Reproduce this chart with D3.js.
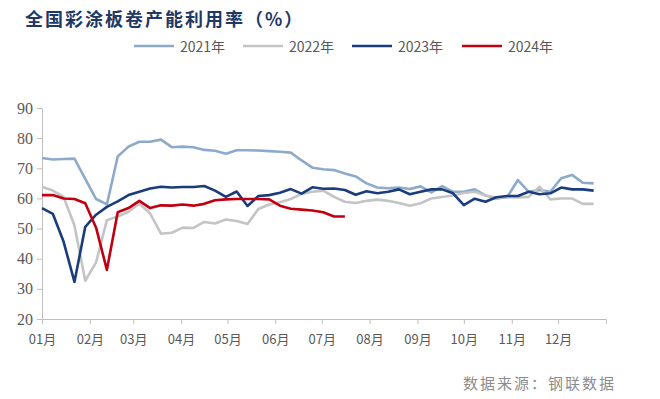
<!DOCTYPE html>
<html>
<head>
<meta charset="utf-8">
<script src="https://cdn.jsdelivr.net/npm/d3@7"></script>
<style>
  body { margin: 0; background: #fff; }
  svg { display: block; }
</style>
</head>
<body>
<div id="chart"></div>
<script>
// weekly readings, 52 points per year (2024 is partial)
const series = ["2021年", "2022年", "2023年", "2024年"];
const colors = ["#8eaacb", "#c4c4c4", "#1b3c7c", "#c00010"];

const v2021 = [73.4, 72.9, 73.1, 73.2, 66.5, 59.8, 58.0, 73.9, 77.2, 78.8, 78.8, 79.5, 77.0, 77.2, 77.0, 76.1, 75.8, 74.8, 76.0, 76.0,
  75.9, 75.7, 75.5, 75.2, 72.6, 70.2, 69.7, 69.4, 68.3, 67.3, 65.0, 63.6, 63.4, 63.6, 63.1, 64.0, 62.0, 64.1, 62.2, 62.2,
  63.0, 61.0, 60.0, 60.4, 66.1, 62.2, 62.8, 62.2, 66.7, 67.8, 65.2, 65.0];
const v2022 = [63.9, 62.6, 60.5, 51.0, 32.7, 38.8, 52.8, 54.0, 55.6, 58.3, 55.0, 48.3, 48.6, 50.3, 50.2, 52.2, 51.7, 53.0, 52.5, 51.5,
  56.5, 58.0, 58.7, 59.8, 61.5, 62.2, 62.6, 60.5, 58.9, 58.5, 59.2, 59.6, 59.2, 58.5, 57.6, 58.4, 60.0, 60.5, 61.0, 61.8,
  62.2, 61.0, 60.3, 60.4, 60.3, 60.5, 63.9, 59.7, 60.0, 60.0, 58.2, 58.2];
const v2023 = [56.8, 54.9, 45.6, 32.3, 50.6, 54.6, 57.2, 59.0, 61.1, 62.2, 63.3, 63.9, 63.6, 63.8, 63.8, 64.1, 62.6, 60.5, 62.3, 57.5,
  60.8, 61.1, 61.9, 63.1, 61.6, 63.7, 63.2, 63.3, 62.8, 61.2, 62.4, 61.7, 62.2, 63.0, 61.4, 62.2, 63.0, 63.0, 61.7, 57.8,
  59.9, 58.9, 60.4, 60.8, 60.8, 62.2, 61.4, 61.7, 63.6, 63.0, 63.0, 62.6];
const v2024 = [61.1, 61.1, 60.0, 59.8, 58.4, 50.3, 36.3, 55.4, 56.8, 59.2, 56.8, 57.7, 57.6, 58.0, 57.6, 58.2, 59.4, 59.7, 59.8, 59.8,
  59.8, 59.7, 57.6, 56.6, 56.3, 56.0, 55.4, 54.0, 54.0];
const values = [v2021, v2022, v2023, v2024];

const monthLabels = ["01月", "02月", "03月", "04月", "05月", "06月", "07月", "08月", "09月", "10月", "11月", "12月"];
const yTicks = [20, 30, 40, 50, 60, 70, 80, 90];

const w = 660;
const h = 399;
const start = new Date(2021, 0, 1);
const weekDate = (i) => d3.timeDay.offset(start, 7 * i);

const svg = d3.select("#chart")
  .append("svg")
  .attr("width", w)
  .attr("height", h);

const x = d3.scaleTime()
  .domain([start, new Date(2022, 0, 1)])
  .range([42, 606]);

const y = d3.scaleLinear()
  .domain([20, 90])
  .range([319, 108]);

// title
svg.append("text")
  .attr("x", 25)
  .attr("y", 26)
  .attr("font-family", "Noto Sans CJK SC")
  .attr("font-weight", "bold")
  .attr("font-size", 18)
  .attr("letter-spacing", 2)
  .attr("fill", "#1f3864")
  .text("全国彩涂板卷产能利用率（%）");

// legend
const legendX = [134, 243, 352, 462];
const legend = svg.append("g");
series.forEach((s, i) => {
  legend.append("line")
    .attr("x1", legendX[i]).attr("x2", legendX[i] + 40)
    .attr("y1", 46).attr("y2", 46)
    .attr("stroke", colors[i])
    .attr("stroke-width", 2.5);
  legend.append("text")
    .attr("x", legendX[i] + 46)
    .attr("y", 46)
    .attr("dominant-baseline", "central")
    .attr("font-family", "Noto Sans CJK SC")
    .attr("font-size", 14)
    .attr("fill", "#595959")
    .text(s);
});

// axes
const xAxis = d3.axisBottom(x)
  .ticks(d3.timeMonth.every(1))
  .tickSize(5)
  .tickFormat((d) => monthLabels[d.getMonth()]);

const gx = svg.append("g")
  .attr("transform", "translate(0," + y(20) + ")")
  .call(xAxis);
gx.selectAll(".tick").filter((d) => d.getFullYear() > 2021).remove();
gx.selectAll("path, line").attr("stroke", "#bfbfbf");
gx.selectAll("text")
  .attr("font-family", "Noto Sans CJK SC")
  .attr("font-size", 13)
  .attr("fill", "#595959")
  .attr("y", 16);

const yAxis = d3.axisLeft(y)
  .tickValues(yTicks)
  .tickSize(5)
  .tickSizeOuter(0);

const gy = svg.append("g")
  .attr("transform", "translate(42,0)")
  .call(yAxis);
gy.selectAll("path, line").attr("stroke", "#bfbfbf");
gy.selectAll("text")
  .attr("font-family", "Liberation Serif")
  .attr("font-size", 16)
  .attr("fill", "#595959")
  .attr("x", -9);

// lines
const line = d3.line()
  .x((d, i) => x(weekDate(i)))
  .y((d) => y(d));

values.forEach((vals, i) => {
  svg.append("path")
    .datum(vals)
    .attr("fill", "none")
    .attr("stroke", colors[i])
    .attr("stroke-width", 2.6)
    .attr("stroke-linejoin", "round")
    .attr("d", line);
});

// source note
svg.append("text")
  .attr("x", 616)
  .attr("y", 389)
  .attr("text-anchor", "end")
  .attr("font-family", "Noto Sans CJK SC")
  .attr("font-size", 15)
  .attr("letter-spacing", 2)
  .attr("fill", "#8c8c8c")
  .text("数据来源：钢联数据");
</script>
</body>
</html>
